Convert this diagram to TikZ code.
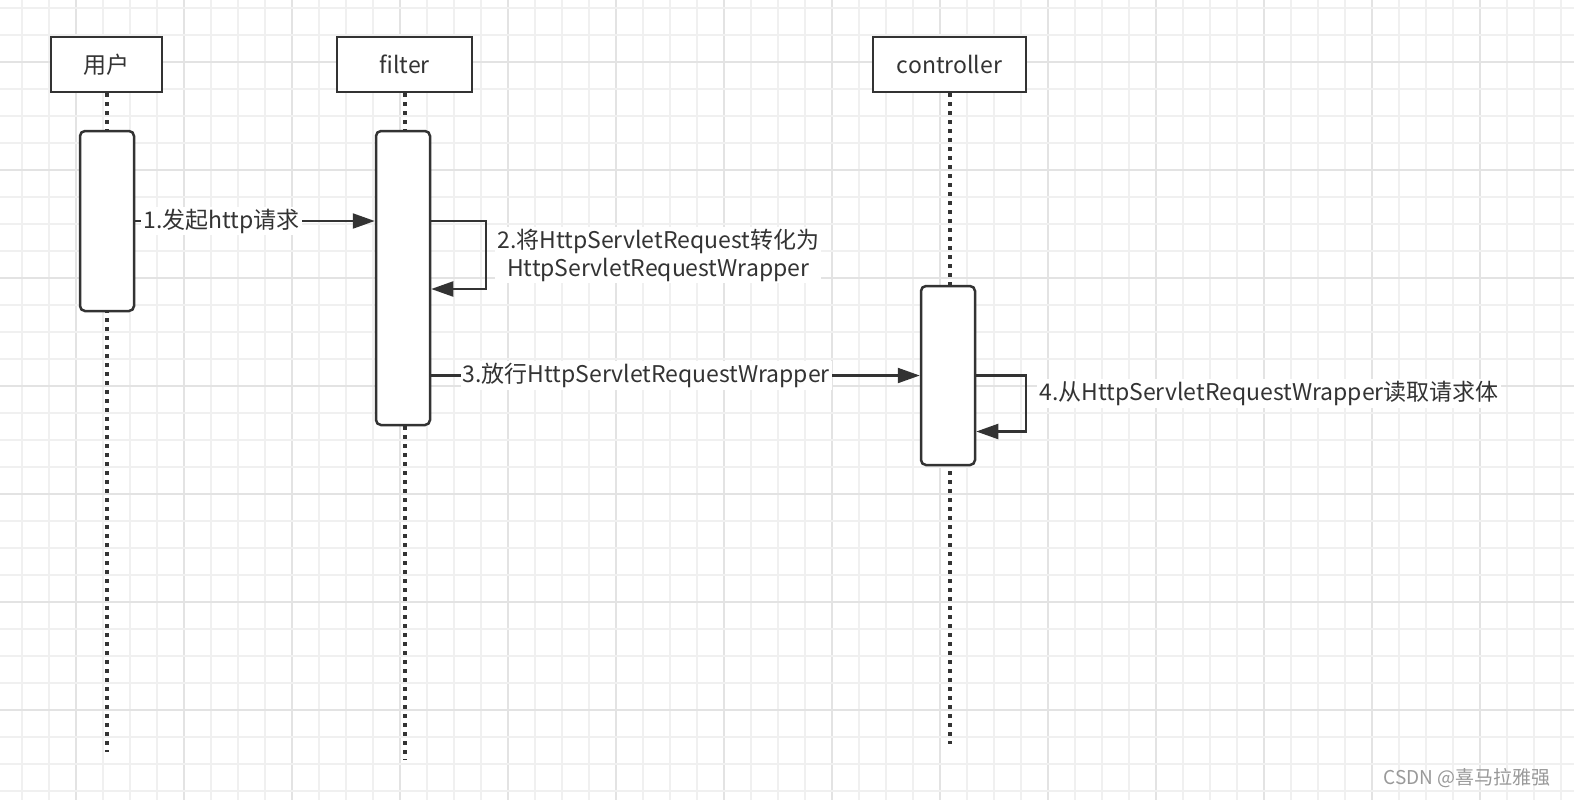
\documentclass[tikz,border=0pt]{standalone}
\usepackage{fontspec}
\setmainfont{Noto Sans CJK SC}
\usetikzlibrary{arrows.meta}
\definecolor{ink}{HTML}{333333}
\definecolor{gridminor}{HTML}{F0F0F0}
\definecolor{gridmajor}{HTML}{E3E3E3}

\begin{document}
\begin{tikzpicture}[x=0.5pt, y=-0.5pt,
        every node/.style={font=\fontsize{11.5}{14}\selectfont, text=ink},
        head/.style={draw=ink, line width=1.25pt, fill=white, inner sep=0pt, minimum height=27.5pt},
        bar/.style={draw=ink, line width=1.25pt, fill=white, rounded corners=2.5pt, minimum width=27pt, inner sep=0pt},
        life/.style={draw=ink, line width=2pt, dash pattern=on 1.75pt off 2.75pt},
        msg/.style={draw=ink, line width=1.1pt, -{Triangle[length=11pt, width=7.5pt]}},
        lbl/.style={fill=white, inner sep=1pt}]
        \useasboundingbox[fill=white] (0,0) rectangle (1574,800);
        % grid
        \foreach \k in {0,...,57} {
            \pgfmathtruncatemacro\m{mod(\k,4)}
            \ifnum\m=2 \def\gc{gridmajor}\else\def\gc{gridminor}\fi
            \draw[\gc, line width=1pt] (22+27*\k,0) -- (22+27*\k,800);
        }
        \foreach \k in {0,...,29} {
            \pgfmathtruncatemacro\m{mod(\k,4)}
            \ifnum\m=2 \def\gc{gridmajor}\else\def\gc{gridminor}\fi
            \draw[\gc, line width=1pt] (0,8+27*\k) -- (1574,8+27*\k);
        }
        % heads and lifelines
        \node[head, minimum width=55.5pt] (hu) at (106.5,64.5) {用户};
        \node[head, minimum width=67.5pt] (hf) at (404.5,64.5) {filter};
        \node[head, minimum width=76.5pt] (hc) at (949.5,64.5) {controller};
        \coordinate (eu) at (106.5,752);
        \coordinate (ef) at (404.5,760);
        \coordinate (ec) at (949.5,744);
        \draw[life] (hu.south) -- (eu);
        \draw[life] (hf.south) -- (ef);
        \draw[life] (hc.south) -- (ec);
        % activations
        \node[bar, minimum height=90pt] (ua) at (107,221) {};
        \node[bar, minimum height=147pt] (fa) at (403,278) {};
        \node[bar, minimum height=89.5pt] (ca) at (948,375.5) {};
        % messages
        \draw[msg] (ua.east) -- node[lbl, pos=0.36] {1.发起http请求} (fa.west |- ua.east);
        \draw[msg] (fa.east |- ua.east) -- ++(55,0) -- node[lbl, right=4pt, align=center] {2.将HttpServletRequest转化为\\HttpServletRequestWrapper} ++(0,68) -- ++(-55,0);
        \draw[msg] (fa.east |- ca.west) -- node[lbl, pos=0.44] {3.放行HttpServletRequestWrapper} (ca.west);
        \draw[msg] (ca.east) -- ++(50,0) -- node[lbl, right=5pt, yshift=5pt] {4.从HttpServletRequestWrapper读取请求体} ++(0,56) -- ++(-50,0);
        \node[text=gray!80, font=\fontsize{9.5}{11}\selectfont] (wm) at (1467,778) {CSDN @喜马拉雅强};
    \end{tikzpicture}
\end{document}
